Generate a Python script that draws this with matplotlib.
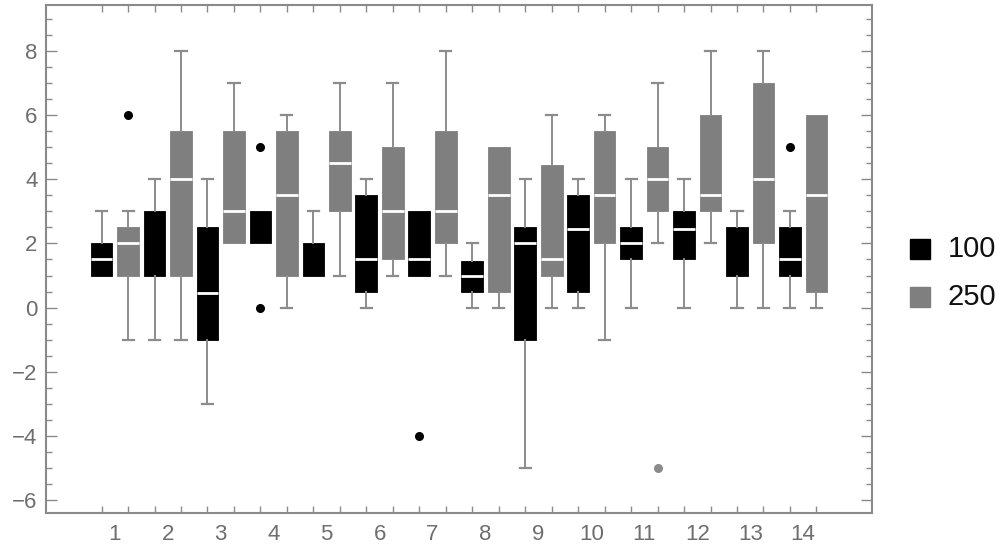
import matplotlib
matplotlib.use("Agg")
import matplotlib.pyplot as plt
from matplotlib.patches import Rectangle
import numpy as np

plt.rcParams['font.family'] = ['Liberation Sans', 'DejaVu Sans']

groups = ['1', '2', '3', '4', '5', '6', '7', '8', '9', '10', '11', '12', '13', '14']
series_names = ['100', '250']

# series "100" (black)
lo_100 = [1, -1, -3, 2, 1, 0, 1, 0, -5, 0, 0, 0, 0, 0]
q1_100 = [1, 1, -1, 2, 1, 0.5, 1, 0.5, -1, 0.5, 1.5, 1.5, 1, 1]
med_100 = [1.5, 1, 0.45, 2, 1, 1.5, 1.5, 1, 2, 2.45, 2, 2.45, 1, 1.5]
q3_100 = [2, 3, 2.5, 3, 2, 3.5, 3, 1.45, 2.5, 3.5, 2.5, 3, 2.5, 2.5]
hi_100 = [3, 4, 4, 3, 3, 4, 3, 2, 4, 4, 4, 4, 3, 3]
out_100 = [[], [], [], [5, 0], [], [], [-4], [], [], [], [], [], [], [5]]

# series "250" (gray)
lo_250 = [-1, -1, 2, 0, 1, 1, 1, 0, 0, -1, 2, 2, 0, 0]
q1_250 = [1, 1, 2, 1, 3, 1.5, 2, 0.5, 1, 2, 3, 3, 2, 0.5]
med_250 = [2, 4, 3, 3.5, 4.5, 3, 3, 3.5, 1.5, 3.5, 4, 3.5, 4, 3.5]
q3_250 = [2.5, 5.5, 5.5, 5.5, 5.5, 5, 5.5, 5, 4.45, 5.5, 5, 6, 7, 6]
hi_250 = [3, 8, 7, 6, 7, 7, 8, 5, 6, 6, 7, 8, 8, 6]
out_250 = [[6], [], [], [], [], [], [], [], [], [], [-5], [], [], []]

series = [
    (lo_100, q1_100, med_100, q3_100, hi_100, out_100),
    (lo_250, q1_250, med_250, q3_250, hi_250, out_250),
]
colors = ['#000000', '#7f7f7f']
flier_colors = [['#000000'] * 14, ['#000000'] + ['#8a8a8a'] * 13]
whisk_col = '#8c8c8c'
frame_col = '#8a8a8a'
label_col = '#6e6e6e'

fig = plt.figure(figsize=(10.04, 5.53), dpi=100)
ax = fig.add_axes([46 / 1004, 1 - 513 / 553, (872 - 46) / 1004, (513 - 4.7) / 553])

n = len(groups)
ns = len(series)
for s, (lo, q1, med, q3, hi, out) in enumerate(series):
    stats = []
    for g in range(n):
        stats.append(dict(whislo=lo[g], q1=q1[g], med=med[g], q3=q3[g],
                          whishi=hi[g], fliers=out[g]))
    pos = [ns * g + s for g in range(n)]
    res = ax.bxp(stats, positions=pos, widths=0.82, capwidths=0.42,
                 patch_artist=True, manage_ticks=False,
                 boxprops=dict(facecolor=colors[s], edgecolor=colors[s], linewidth=0.6),
                 whiskerprops=dict(color=whisk_col, linewidth=1.4),
                 capprops=dict(color=whisk_col, linewidth=1.6),
                 medianprops=dict(color='white', linewidth=2.0, solid_capstyle='butt'),
                 flierprops=dict(marker='o', markersize=6.5, markeredgewidth=0,
                                 markerfacecolor=colors[s]))
    for g, line in enumerate(res['medians']):
        if med[g] == q1[g] or med[g] == q3[g]:
            line.set_visible(False)
    for g in range(n):
        if lo[g] == q1[g]:
            res['caps'][2 * g].set_visible(False)
        if hi[g] == q3[g]:
            res['caps'][2 * g + 1].set_visible(False)
    for g, fl in enumerate(res['fliers']):
        fl.set_markerfacecolor(flier_colors[s][g])
        fl.set_markeredgecolor(flier_colors[s][g])

ax.set_xlim(-2.1, 29.1)
ax.set_ylim(-6.40, 9.44)

all_pos = np.arange(n * ns)
ax.set_xticks(all_pos)
ax.set_xticklabels([])
ax.set_xticks(np.arange(n) * ns + (ns - 1) / 2, minor=True)
ax.set_xticklabels(groups, minor=True)
ax.tick_params(axis='x', which='major', direction='in', length=5, width=1,
               color=frame_col, top=True, bottom=True)
ax.tick_params(axis='x', which='minor', length=0, pad=8, labelsize=16,
               labelcolor=label_col)

ax.set_yticks(np.arange(-6, 9, 2))
ax.set_yticks(np.arange(-6, 9.5, 0.5), minor=True)
ax.tick_params(axis='y', which='major', direction='in', length=8, width=1,
               color=frame_col, left=True, right=True, pad=6, labelsize=16,
               labelcolor=label_col)
ax.tick_params(axis='y', which='minor', direction='in', length=4.5, width=1,
               color=frame_col, left=True, right=True)

for sp in ax.spines.values():
    sp.set_color(frame_col)
    sp.set_linewidth(1.5)

# legend
for s, name in enumerate(series_names):
    cy = 1 - (249 + 48 * s) / 553
    fig.patches.append(Rectangle((910 / 1004, cy - 10 / 553), 20 / 1004, 20 / 553,
                                 transform=fig.transFigure, facecolor=colors[s],
                                 edgecolor=colors[s]))
    fig.text(948 / 1004, cy, name, fontsize=21, va='center', ha='left', color='#111111')

fig.savefig('out.png', dpi=100)
